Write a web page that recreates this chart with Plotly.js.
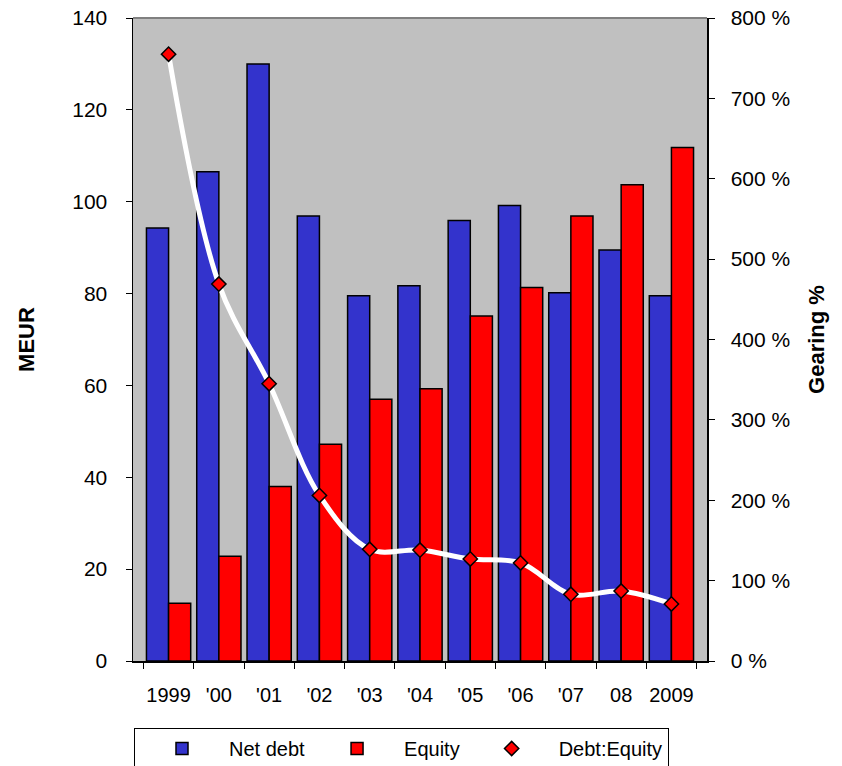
<!DOCTYPE html>
<html>
<head>
<meta charset="utf-8">
<script src="https://cdn.plot.ly/plotly-3.0.1.min.js"></script>
<style>html,body{margin:0;padding:0;background:#fff;}#chart{width:842px;height:766px;}</style>
</head>
<body>
<div id="chart"></div>
<script>
const years = ["1999", "'00", "'01", "'02", "'03", "'04", "'05", "'06", "'07", "08", "2009"];
const netDebt = [94.3, 106.5, 130.0, 96.9, 79.5, 81.7, 95.9, 99.2, 80.2, 89.5, 79.5];
const equity = [12.6, 22.8, 38.0, 47.2, 57.0, 59.3, 75.1, 81.3, 96.9, 103.7, 111.8];
const gearing = [755, 469, 345, 206, 139, 138, 127, 122, 83, 87, 71];

const FONT = "Liberation Sans, Arial, sans-serif";

const traces = [
  {type: 'bar', name: 'Net debt', x: years, y: netDebt,
   marker: {color: '#3333CC', line: {color: '#000', width: 1.5}}},
  {type: 'bar', name: 'Equity', x: years, y: equity,
   marker: {color: '#FF0000', line: {color: '#000', width: 1.5}}},
  {type: 'scatter', mode: 'lines', x: years, y: gearing, yaxis: 'y2', showlegend: false,
   line: {color: '#FFFFFF', width: 5, shape: 'spline', smoothing: 1}, hoverinfo: 'skip'},
  {type: 'scatter', mode: 'markers', name: 'Debt:Equity', x: years, y: gearing, yaxis: 'y2',
   marker: {symbol: 'diamond', color: '#FF0000', size: 11, line: {color: '#000', width: 1.5}}}
];

const layout = {
  width: 842, height: 766,
  margin: {l: 133, r: 135, t: 18, b: 105},
  paper_bgcolor: '#FFFFFF',
  plot_bgcolor: '#C0C0C0',
  font: {family: FONT, size: 21, color: '#000'},
  barmode: 'group',
  bargap: 0.12,
  bargroupgap: 0,
  showlegend: true,
  legend: {
    orientation: 'h', xref: 'container', yref: 'container',
    x: 134 / 842, xanchor: 'left', y: (766 - 728) / 766, yanchor: 'top',
    bordercolor: '#000', borderwidth: 1, bgcolor: '#FFFFFF',
    font: {family: FONT, size: 20}, itemwidth: 84, traceorder: 'normal'
  },
  xaxis: {
    type: 'category', showgrid: false, zeroline: false,
    showline: true, linecolor: '#000', linewidth: 1.5,
    ticks: 'outside', tickson: 'boundaries', ticklen: 6, tickcolor: '#000',
    tickangle: 0,
    tickfont: {family: FONT, size: 20}, ticklabelstandoff: 15
  },
  yaxis: {
    range: [0, 140], dtick: 20, showgrid: false, zeroline: false,
    showline: true, linecolor: '#000', linewidth: 1.5,
    ticks: 'outside', ticklen: 6, tickcolor: '#000',
    tickfont: {family: FONT, size: 21}, ticklabelstandoff: 14,
    title: {text: '<b>MEUR</b>', font: {family: FONT, size: 22}, standoff: 31}
  },
  yaxis2: {
    overlaying: 'y', side: 'right', range: [0, 800], dtick: 100, ticksuffix: ' %',
    showgrid: false, zeroline: false,
    showline: true, linecolor: '#000', linewidth: 1.5,
    ticks: 'outside', ticklen: 6, tickcolor: '#000',
    tickfont: {family: FONT, size: 21}, ticklabelstandoff: 12,
    title: {text: '<b>Gearing %</b>', font: {family: FONT, size: 22}, standoff: 19}
  },
  shapes: [
    {type: 'line', xref: 'paper', yref: 'paper', x0: 0, x1: 1, y0: 1, y1: 1,
     line: {color: '#808080', width: 2}}
  ]
};

Plotly.newPlot('chart', traces, layout, {displayModeBar: false, staticPlot: true});
</script>
</body>
</html>
